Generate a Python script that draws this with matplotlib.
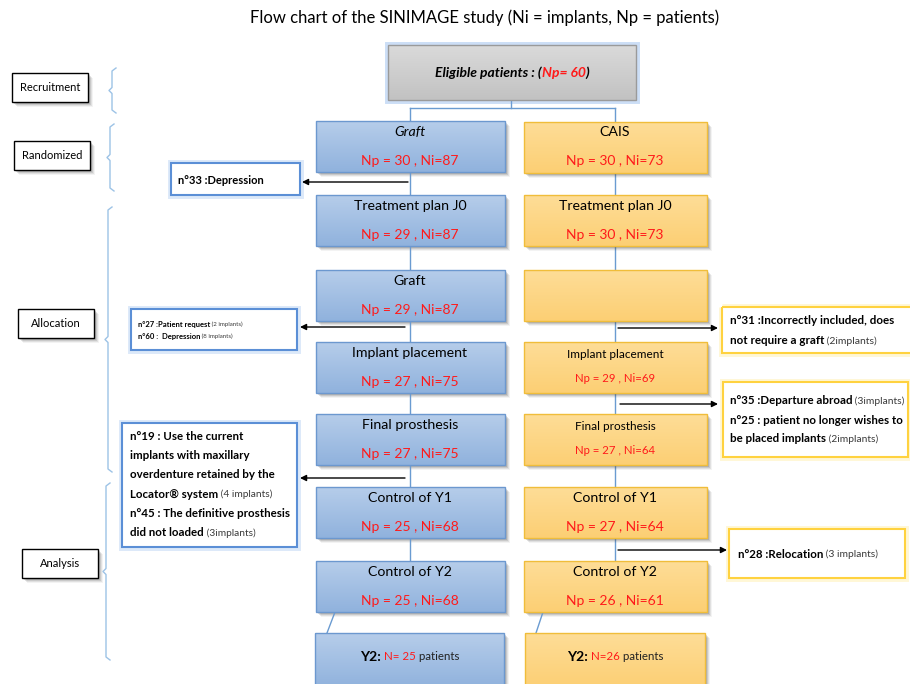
"""Flow chart of the SINIMAGE study, redrawn with matplotlib."""

import matplotlib

matplotlib.use("Agg")
import matplotlib.pyplot as plt
import numpy as np
from matplotlib.colors import LinearSegmentedColormap
from matplotlib.patches import Rectangle

plt.rcParams["font.family"] = ["Lato", "DejaVu Sans"]

TITLE = "Flow chart of the SINIMAGE study (Ni = implants, Np = patients)"
PHASES = ["Recruitment", "Randomized", "Allocation", "Analysis"]
ELIGIBLE_NP = 60

GRAFT_STEPS = ["Graft", "Treatment plan J0", "Graft", "Implant placement",
               "Final prosthesis", "Control of Y1", "Control of Y2"]
GRAFT_NP = [30, 29, 29, 27, 27, 25, 25]
GRAFT_NI = [87, 87, 87, 75, 75, 68, 68]

CAIS_STEPS = ["CAIS", "Treatment plan J0", "", "Implant placement",
              "Final prosthesis", "Control of Y1", "Control of Y2"]
CAIS_NP = [30, 30, None, 29, 27, 27, 26]
CAIS_NI = [73, 73, None, 69, 64, 64, 61]

FINAL_N = [25, 26]

# exclusion notes: each line is a list of (text, bold)
NOTE_N33 = [[("n°33 :Depression", True)]]
NOTE_N27 = [[("n°27 :Patient request", True), (" (2 implants)", False)],
            [("n°60 :  Depression", True), (" (8 implants)", False)]]
NOTE_N19 = [[("n°19 : Use the current", True)],
            [("implants with maxillary", True)],
            [("overdenture retained by the", True)],
            [("Locator® system", True), (" (4 implants)", False)],
            [("n°45 : The definitive prosthesis", True)],
            [("did not loaded", True), (" (3implants)", False)]]
NOTE_N31 = [[("n°31 :Incorrectly included, does", True)],
            [("not require a graft", True), (" (2implants)", False)]]
NOTE_N35 = [[("n°35 :Departure abroad", True), (" (3implants)", False)],
            [("n°25 : patient no longer wishes to", True)],
            [("be placed implants", True), (" (2implants)", False)]]
NOTE_N28 = [[("n°28 :Relocation", True), (" (3 implants)", False)]]

BLUE = ("#b6cdea", "#90b2dd", "#6c98cf")
ORANGE = ("#fedd97", "#fccf74", "#f0bd3a")
GRAY = ("#dadada", "#c2c2c2", "#9a9a9a")
LINE = "#6a9bd1"
RED = "#ff1a1a"

fig = plt.figure(figsize=(9.1, 6.84), dpi=100)
ax = fig.add_axes([0, 0, 1, 1])
ax.set_axis_off()
renderer = fig.canvas.get_renderer()


def box(x0, y0, w, h, colors, lw=1.0, shadow=True, glow=None):
    top, bottom, edge = colors
    if shadow:
        for k, a in ((5, 0.06), (4, 0.10), (3, 0.14), (2, 0.18)):
            ax.add_patch(Rectangle((x0 + k, y0 + k), w, h, fc="0.25", ec="none",
                                   alpha=a, zorder=1))
    if glow:
        ax.add_patch(Rectangle((x0, y0), w, h, fc="none", ec=glow, lw=5,
                               alpha=0.35, zorder=2))
    cmap = LinearSegmentedColormap.from_list("fill", [top, bottom])
    image = ax.imshow(np.linspace(0, 1, 64).reshape(-1, 1), cmap=cmap,
                      extent=(x0, x0 + w, y0 + h, y0), aspect="auto", zorder=2)
    rect = Rectangle((x0, y0), w, h, fc="none", ec=edge, lw=lw, zorder=3)
    ax.add_patch(rect)
    image.set_clip_path(rect)


def rich(x, y, parts, ha="center"):
    """parts: (text, color, weight, style, size)"""
    arts = [ax.text(0, y, s, color=c, fontweight=wt, fontstyle=st, fontsize=sz,
                    va="center", ha="left", zorder=6)
            for s, c, wt, st, sz in parts]
    widths = [a.get_window_extent(renderer).width for a in arts]
    start = x - sum(widths) / 2 if ha == "center" else x
    for a, wd in zip(arts, widths):
        a.set_x(start)
        start += wd


def note(x0, y0, w, h, lines, tx, ty, step, edge, glow, size, small):
    box(x0, y0, w, h, ("white", "white", edge), lw=1.5, shadow=False, glow=glow)
    for i, line in enumerate(lines):
        parts = [(s, "black" if b else "#3a3a3a", "bold" if b else "normal",
                  "normal", size if b else small) for s, b in line]
        rich(tx, ty + i * step, parts, ha="left")


def brace(x, y0, y1):
    ym = (y0 + y1) / 2
    xs = [x + 4, x, x, x - 3, x, x, x + 4]
    ys = [y0, y0 + 3, ym - 3, ym, ym + 3, y1 - 3, y1]
    ax.plot(xs, ys, color="#9dc3e6", lw=1, zorder=2)


def arrow(x_from, x_to, y):
    ax.annotate("", xy=(x_to, y), xytext=(x_from, y), zorder=4,
                arrowprops=dict(arrowstyle="-|>", color="black", lw=1,
                                mutation_scale=9, shrinkA=0, shrinkB=0))


# title
ax.text(485, 18, TITLE, ha="center", va="center", fontsize=12, zorder=6)

# phase labels and braces
for label, (lx, ly), (bx, by0, by1) in zip(
        PHASES,
        [(12, 73), (14, 141), (18, 309), (22, 549)],
        [(112, 68, 113), (110, 124, 191), (108, 207, 472), (106, 483, 660)]):
    box(lx, ly, 76, 29, ("white", "white", "black"), lw=1)
    ax.text(lx + 38, ly + 14.5, label, ha="center", va="center", fontsize=8, zorder=6)
    brace(bx, by0, by1)

# eligible patients
box(388, 45, 248, 55, GRAY, lw=1, shadow=False, glow="#6fa2e6")
rich(512, 73, [("Eligible patients : (", "black", "bold", "italic", 10),
               (f"Np= {ELIGIBLE_NP}", RED, "bold", "italic", 10),
               (")", "black", "bold", "italic", 10)])

# split connector
ax.plot([511, 511], [100, 108], color=LINE, lw=1, zorder=1)
ax.plot([410, 615], [108, 108], color=LINE, lw=1, zorder=1)
ax.plot([410, 410], [108, 121], color=LINE, lw=1, zorder=1)
ax.plot([615, 615], [108, 122], color=LINE, lw=1, zorder=1)

row_tops = [121, 195, 270, 342, 414, 487, 561]
row_h = 51
for i, top in enumerate(row_tops):
    # graft arm
    box(316, top, 189, row_h, BLUE)
    rich(410, top + 11, [(GRAFT_STEPS[i], "black", "normal",
                          "italic" if i == 0 else "normal", 10.2)])
    rich(410, top + 40, [(f"Np = {GRAFT_NP[i]} , Ni={GRAFT_NI[i]}", RED,
                          "normal", "normal", 10)])
    if i < len(row_tops) - 1:
        ax.plot([410, 410], [top + row_h, row_tops[i + 1]], color=LINE, lw=1, zorder=1)
        ax.plot([615, 615], [top + row_h, row_tops[i + 1]], color=LINE, lw=1, zorder=1)
    # CAIS arm
    box(524, top + (1 if i == 0 else 0), 183, row_h, ORANGE)
    if CAIS_NP[i] is None:
        continue
    small = i in (3, 4)
    rich(615, top + (13 if small else 11),
         [(CAIS_STEPS[i], "black", "normal", "normal", 8.5 if small else 10.2)])
    rich(615, top + (37 if small else 40),
         [(f"Np = {CAIS_NP[i]} , Ni={CAIS_NI[i]}", RED, "normal", "normal",
           8.2 if small else 10)])

# final boxes
ax.plot([335, 327], [612, 633], color=LINE, lw=1, zorder=1)
ax.plot([543, 536], [612, 633], color=LINE, lw=1, zorder=1)
box(315, 633, 189, 55, BLUE)
box(525, 633, 180, 55, ORANGE)
rich(410, 657, [("Y2:", "black", "bold", "normal", 10),
                (f" N= {FINAL_N[0]}", RED, "normal", "normal", 8.3),
                (" patients", "#222222", "normal", "normal", 8.3)])
rich(615, 657, [("Y2:", "black", "bold", "normal", 10),
                (f" N={FINAL_N[1]}", RED, "normal", "normal", 8.3),
                (" patients", "#222222", "normal", "normal", 8.3)])

# exclusions
arrow(408, 302, 182)
arrow(405, 300, 327)
arrow(405, 300, 478)
arrow(618, 718, 328)
arrow(620, 718, 404)
arrow(618, 727, 550)

note(171, 163, 129, 32, NOTE_N33, 178, 180, 19, "#5b8fd6", "#9cc0ee", 8, 7)
note(131, 309, 166, 41, NOTE_N27, 138, 324, 12, "#5b8fd6", "#9cc0ee", 5.5, 4.4)
note(122, 423, 175, 124, NOTE_N19, 130, 436, 19.4, "#5b8fd6", "#9cc0ee", 8.3, 7.3)
note(722, 307, 210, 46, NOTE_N31, 730, 321, 20, "#ffd23f", "#ffe98a", 8.4, 7.5)
note(723, 382, 185, 75, NOTE_N35, 730, 401, 19, "#ffd23f", "#ffe98a", 8.3, 7.4)
note(729, 529, 176, 49, NOTE_N28, 738, 554, 19, "#ffd23f", "#ffe98a", 8.3, 7.4)

ax.set_xlim(0, 910)
ax.set_ylim(684, 0)
fig.savefig("out.png", dpi=100)
